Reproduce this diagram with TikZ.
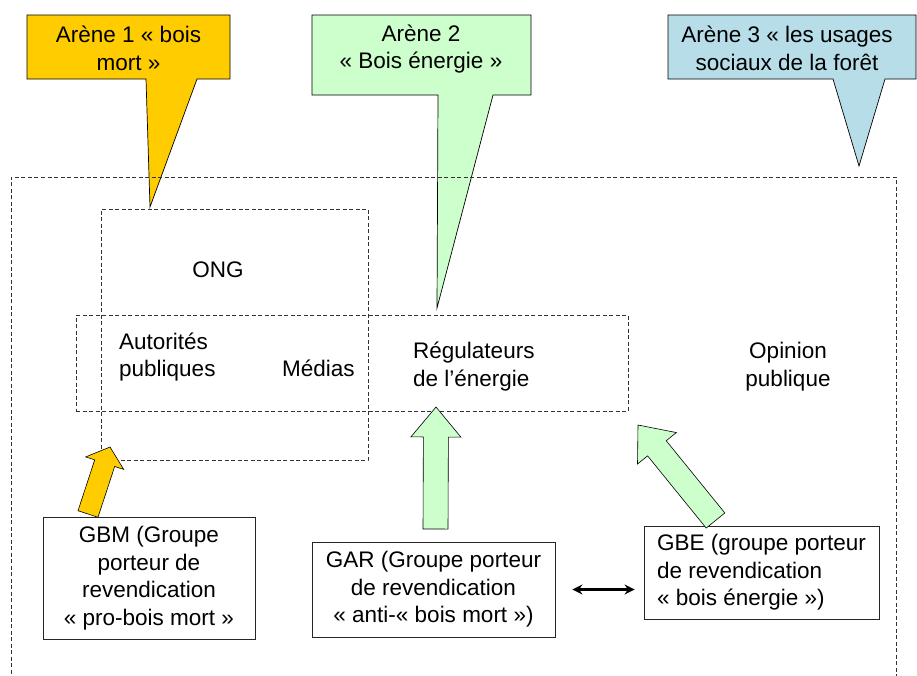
\documentclass[tikz,border=0pt]{standalone}
\usepackage{fontspec}
\setmainfont{Liberation Sans}
\usetikzlibrary{calc,arrows.meta}
\definecolor{cyel}{HTML}{FFCC00}
\definecolor{cgrn}{HTML}{CCFFCC}
\definecolor{cblu}{HTML}{B7DDE8}
\newcommand\blockarr[6]{%
  \path ($(#2)!#5!(#1)$) coordinate (hb);
  \filldraw[fill=#6, draw=black, line width=0.6pt, line join=miter]
    ($(#1)!#3!90:(#2)$) -- ($(hb)!#3!90:(#2)$) -- ($(hb)!#4!90:(#2)$) -- (#2)
    -- ($(hb)!#4!-90:(#2)$) -- ($(hb)!#3!-90:(#2)$) -- ($(#1)!#3!-90:(#2)$) -- cycle;}
\begin{document}
\begin{tikzpicture}[x=1pt,y=-1pt,
  every node/.style={font=\fontsize{22.5}{27.5}\selectfont, inner sep=0pt},
  dashbox/.style={draw=black!80, line width=0.8pt, dash pattern=on 4pt off 2.5pt},
  callout/.style={draw=black, line width=0.7pt, line join=miter},
  gbox/.style={draw=black!85, line width=0.8pt, fill=white, align=center}]
\useasboundingbox (0,0) rectangle (917,675);
% callouts
\filldraw[callout, fill=cyel] (27,15) -- (230,15) -- (230,79) -- (197,79) -- (150,207) -- (146,79) -- (27,79) -- cycle;
\filldraw[callout, fill=cgrn] (312,15) -- (531,15) -- (531,95) -- (493,95) -- (437,308) -- (438,95) -- (312,95) -- cycle;
\filldraw[callout, fill=cblu] (668,15) -- (916,15) -- (916,79) -- (885,79) -- (859,166) -- (833,79) -- (668,79) -- cycle;
\node[align=center] (a1) at (128.5,48.5) {Arène 1 « bois\\mort »};
\node[align=center] (a2) at (421,49) {Arène 2\\« Bois énergie »};
\node[align=center] (a3) at (787,48.5) {Arène 3 « les usages\\sociaux de la forêt};
% dashed frames
\draw[dashbox] (11,680) -- (11,177) -- (896,177) -- (896,680);
\node[dashbox, minimum width=267pt, minimum height=251pt] (ongbox) at (234.5,334.5) {};
\node[dashbox, minimum width=552pt, minimum height=96pt] (midbox) at (352,363) {};
% labels
\node (ong) at (218,270) {ONG};
\node[anchor=west, align=left] (aut) at (119,357) {Autorités\\publiques};
\node[anchor=west] (med) at (282,368) {Médias};
\node[anchor=west, align=left] (reg) at (413,366.5) {Régulateurs\\de l’énergie};
\node[align=center] (opi) at (788,366.5) {Opinion\\publique};
% groups
\node[gbox, minimum width=212pt, minimum height=122pt] (gbm) at (149,578) {GBM (Groupe\\porteur de\\revendication\\« pro-bois mort »};
\node[gbox, minimum width=243pt, minimum height=95pt] (gar) at (433.5,589.5) {GAR (Groupe porteur\\de revendication\\« anti-« bois mort »)};
\node[gbox, minimum width=235pt, minimum height=93pt, align=left] (gbe) at (761.5,572.5) {GBE (groupe porteur\\de revendication\\« bois énergie »)};
% block arrows
\coordinate (gbmA) at (88,514);
\coordinate (gbmT) at (110,447);
\blockarr{gbmA}{gbmT}{10.5pt}{20pt}{17pt}{cyel}
\coordinate (garA) at (435.5,529);
\coordinate (garT) at (436,407);
\blockarr{garA}{garT}{12.5pt}{25pt}{30pt}{cgrn}
\coordinate (gbeA) at (715.5,520.5);
\coordinate (gbeT) at (638,425);
\blockarr{gbeA}{gbeT}{12pt}{25pt}{30pt}{cgrn}
% double arrow
\draw[{Stealth[length=10pt,width=10pt]}-{Stealth[length=10pt,width=10pt]}, line width=2.8pt, shorten <=17pt, shorten >=9pt]
  (gar.east) -- (gar.east -| gbe.west);
\end{tikzpicture}
\end{document}
